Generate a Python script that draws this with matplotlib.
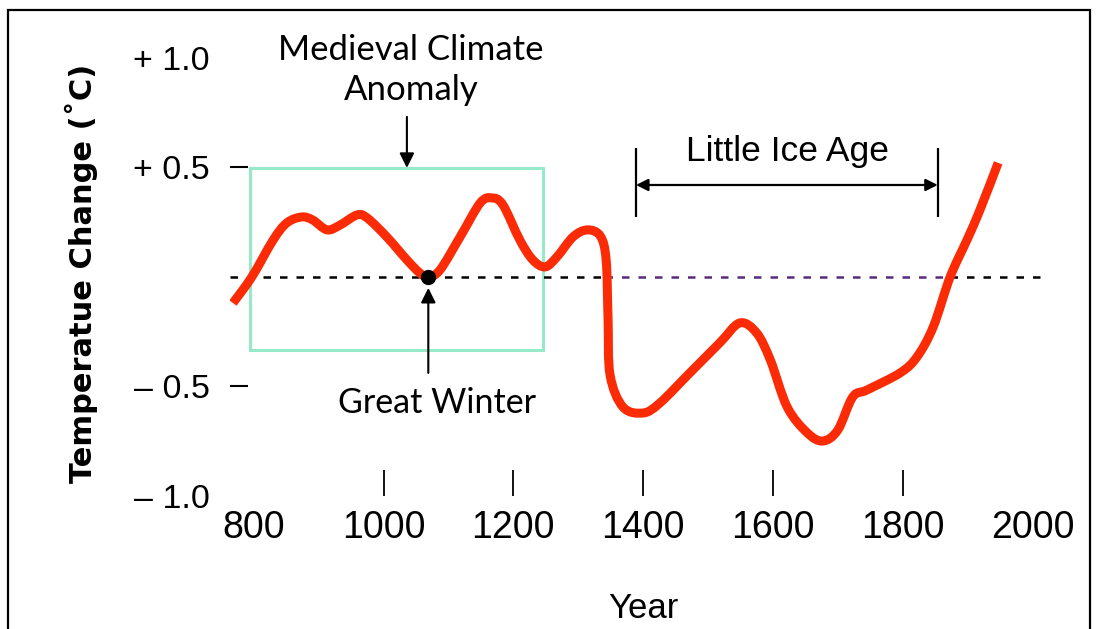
import matplotlib
matplotlib.use("Agg")
import matplotlib.pyplot as plt
import numpy as np
from matplotlib import font_manager
from matplotlib.patches import Rectangle, PathPatch
from matplotlib.path import Path

# reconstructed temperature curve
years = [768, 797, 830, 851, 874, 891, 913, 933, 959, 975,
         1005, 1036, 1056, 1069, 1087, 1118, 1149, 1167, 1184, 1210,
         1230, 1249, 1267, 1292, 1314, 1334, 1343, 1346, 1349, 1369,
         1400, 1426, 1472, 1518, 1549, 1575, 1596, 1622, 1653, 1677,
         1700, 1723, 1745, 1796, 1822, 1847, 1873, 1899, 1919, 1947]
temp_change = [-0.119, 0.0, 0.169, 0.247, 0.274, 0.260, 0.215, 0.237, 0.283, 0.269,
               0.183, 0.078, 0.018, 0.0, 0.032, 0.183, 0.338, 0.361, 0.329, 0.169,
               0.078, 0.046, 0.091, 0.183, 0.215, 0.187, 0.078, -0.196, -0.447, -0.594,
               -0.621, -0.575, -0.438, -0.301, -0.210, -0.256, -0.379, -0.594, -0.712, -0.749,
               -0.699, -0.548, -0.516, -0.438, -0.365, -0.228, 0.0, 0.169, 0.306, 0.521]

year_ticks = [800, 1000, 1200, 1400, 1600, 1800, 2000]
temp_ticks = [-1.0, -0.5, 0.5, 1.0]
temp_tick_labels = ["\u2013 1.0", "\u2013 0.5", "+ 0.5", "+ 1.0"]

# periods / events
mca_start, mca_end = 794, 1246
mca_low, mca_high = -0.333, 0.498
great_winter_year, great_winter_temp = 1069, 0.0
lia_start, lia_end = 1389, 1854
baseline_start, baseline_end = 764, 2011
lia_baseline_start, lia_baseline_end = 1342, 1873

installed = {f.name for f in font_manager.fontManager.ttflist}
narrow = "Liberation Sans Narrow" if "Liberation Sans Narrow" in installed else "Liberation Sans"
plt.rcParams['font.family'] = [narrow, 'DejaVu Sans']


def smooth_path(xs, ys):
    # curve through the read points (Catmull-Rom drawn as bezier segments)
    pts = np.column_stack([xs, ys]).astype(float)
    ext = np.vstack([pts[0], pts, pts[-1]])
    verts = [pts[0]]
    codes = [Path.MOVETO]
    for i in range(1, len(ext) - 2):
        p0, p1, p2, p3 = ext[i - 1], ext[i], ext[i + 1], ext[i + 2]
        verts += [p1 + (p2 - p0) / 6, p2 - (p3 - p1) / 6, p2]
        codes += [Path.CURVE4] * 3
    return Path(verts, codes)


fig = plt.figure(figsize=(10.97, 6.29), dpi=100)
ax = fig.add_axes([0.2097, 0.2115, 0.7475, 0.7409])
ax.set_xlim(763.5, 2027)
ax.set_ylim(-1.0, 1.128)
for s in ax.spines.values():
    s.set_visible(False)
ax.patch.set_alpha(0)

# zero line, dashed
dash = (0, (3, 3.6))
ax.plot([baseline_start, lia_baseline_start], [0, 0], color='black', lw=1.8, ls=dash)
ax.plot([lia_baseline_start, lia_baseline_end], [0, 0], color='#5a2a82', lw=1.8, ls=dash)
ax.plot([lia_baseline_end, baseline_end], [0, 0], color='black', lw=1.8, ls=dash)

ax.add_patch(Rectangle((mca_start, mca_low), mca_end - mca_start, mca_high - mca_low,
                       fill=False, ec='#96e9c9', lw=2.2, zorder=1))

ax.add_patch(PathPatch(smooth_path(years, temp_change), fill=False, ec='#fb2b06', lw=6.5,
                       joinstyle='round', capstyle='butt', zorder=3))
ax.plot(great_winter_year, great_winter_temp, 'o', color='black', ms=10, zorder=4)

# Medieval Climate Anomaly label
ax.annotate('', xy=(1036, mca_high), xytext=(1036, 0.731),
            arrowprops=dict(arrowstyle='-|>', color='black', lw=1.5,
                            mutation_scale=22, shrinkA=0, shrinkB=0))
ax.text(1042, 0.945, 'Medieval Climate\nAnomaly', ha='center', va='center',
        fontsize=25, family='Lato', linespacing=1.3)

# Great Winter
ax.annotate('', xy=(great_winter_year, -0.05), xytext=(great_winter_year, -0.438),
            arrowprops=dict(arrowstyle='-|>', color='black', lw=1.5,
                            mutation_scale=22, shrinkA=0, shrinkB=0))
ax.text(1082, -0.575, 'Great Winter', ha='center', va='center', fontsize=24.5, family='Lato')

# Little Ice Age
ax.vlines([lia_start, lia_end], 0.274, 0.589, color='black', lw=1.6)
ax.annotate('', xy=(lia_start, 0.42), xytext=(lia_end, 0.42),
            arrowprops=dict(arrowstyle='<|-|>', color='black', lw=1.6,
                            mutation_scale=18, shrinkA=0, shrinkB=0))
ax.text(1622, 0.571, 'Little Ice Age', ha='center', va='center',
        fontsize=25.5, family='Liberation Sans')

ax.set_xticks(year_ticks)
ax.set_xticklabels([str(y) for y in year_ticks])
ax.tick_params(axis='x', direction='in', length=18.7, width=1.3, pad=10, labelsize=27)
xt = ax.xaxis.get_major_ticks()
xt[0].tick1line.set_visible(False)
xt[-1].tick1line.set_visible(False)

ax.set_yticks(temp_ticks)
ax.set_yticklabels(temp_tick_labels)
ax.tick_params(axis='y', direction='in', length=13, width=1.5, pad=14.4, labelsize=24.5)
yt = ax.yaxis.get_major_ticks()
yt[0].tick1line.set_visible(False)
yt[-1].tick1line.set_visible(False)

ax.set_xlabel('Year', fontsize=25)
ax.xaxis.set_label_coords(0.504, -0.205)
ax.set_ylabel('Temperatue Change (\u02daC)', fontsize=22, family='DejaVu Sans', fontweight='bold')
ax.yaxis.set_label_coords(-0.161, 0.4785)

# frame around the figure
fig.add_artist(Rectangle((8 / 1097, -0.02), 1082 / 1097, 1.0041, transform=fig.transFigure,
                         fill=False, ec='black', lw=1.6))

fig.savefig('out.png', dpi=100)
